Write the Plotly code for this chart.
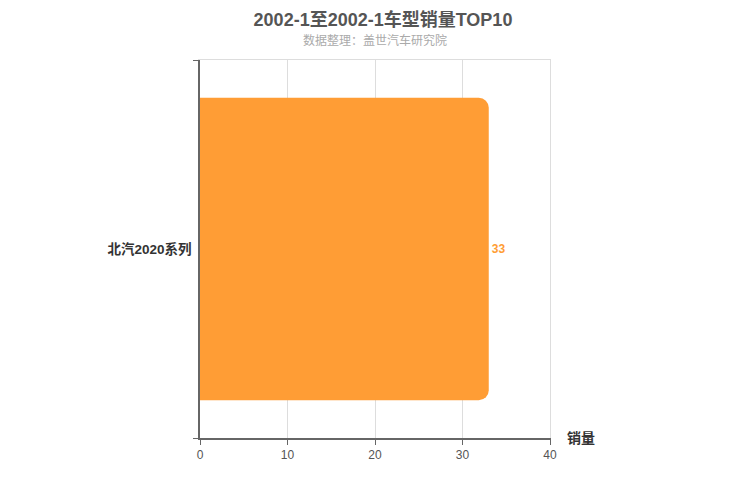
import plotly.graph_objects as go

# data
models = ["北汽2020系列"]
sales = [33]
x_ticks = [0, 10, 20, 30, 40]

title_text = "2002-1至2002-1车型销量TOP10"
subtitle_text = "数据整理：盖世汽车研究院"

FONT = "Liberation Sans, Noto Sans CJK SC, sans-serif"

fig = go.Figure()
fig.add_trace(go.Bar(
    x=sales,
    y=models,
    orientation="h",
    width=0.8,
    marker=dict(color="#FF9D35", cornerradius=10, line=dict(width=0)),
    text=[str(v) for v in sales],
    textposition="outside",
    textfont=dict(family=FONT, size=12, color="#FF9D35", weight="bold"),
    cliponaxis=False,
    hoverinfo="x+y",
))
# empty trace so the overlay frame axes (top / right) get drawn
fig.add_trace(go.Scatter(x=[], y=[], xaxis="x2", yaxis="y2",
                         showlegend=False, hoverinfo="skip"))

fig.update_layout(
    width=750,
    height=500,
    margin=dict(l=192, r=208, t=52, b=70),
    paper_bgcolor="white",
    plot_bgcolor="white",
    showlegend=False,
    font=dict(family=FONT),
    title=dict(
        text=f"<b>{title_text}</b>",
        x=0.5, xanchor="center",
        y=0.99, yanchor="top",
        font=dict(size=18, color="#555555", family=FONT),
    ),
    annotations=[
        dict(text=subtitle_text, xref="paper", yref="paper",
             x=0.5, y=1.0, yshift=20, xanchor="center", yanchor="middle",
             showarrow=False, font=dict(size=12, color="#aaaaaa", family=FONT)),
        dict(text="<b>销量</b>", xref="paper", yref="paper",
             x=1.0, y=0, xshift=15, xanchor="left", yanchor="middle",
             showarrow=False, font=dict(size=14, color="#333333", family=FONT)),
    ],
    xaxis2=dict(overlaying="x", side="top", anchor="y2", range=[0, 40],
                showline=True, linecolor="#dddddd", linewidth=1,
                showticklabels=False, showgrid=False, ticks="", zeroline=False),
    yaxis2=dict(overlaying="y", side="right", anchor="x2", range=[0, 1],
                showline=True, linecolor="#dddddd", linewidth=1,
                showticklabels=False, showgrid=False, ticks="", zeroline=False),
)

fig.layout.xaxis.update(
    range=[0, 40],
    tickvals=x_ticks,
    showgrid=True,
    gridcolor="#dddddd",
    gridwidth=1,
    showline=True,
    linecolor="#666666",
    linewidth=1.5,
    ticks="outside",
    ticklen=5,
    tickcolor="#666666",
    tickfont=dict(size=12, color="#555555", family=FONT),
    zeroline=False,
)

fig.layout.yaxis.update(
    type="category",
    tickson="boundaries",
    showgrid=True,
    gridcolor="#dddddd",
    showline=True,
    linecolor="#666666",
    linewidth=1.5,
    ticks="outside",
    ticklen=5,
    tickcolor="#666666",
    tickfont=dict(size=13.5, color="#333333", family=FONT, weight="bold"),
    ticklabelstandoff=4,
)

fig.write_html("out.html")
